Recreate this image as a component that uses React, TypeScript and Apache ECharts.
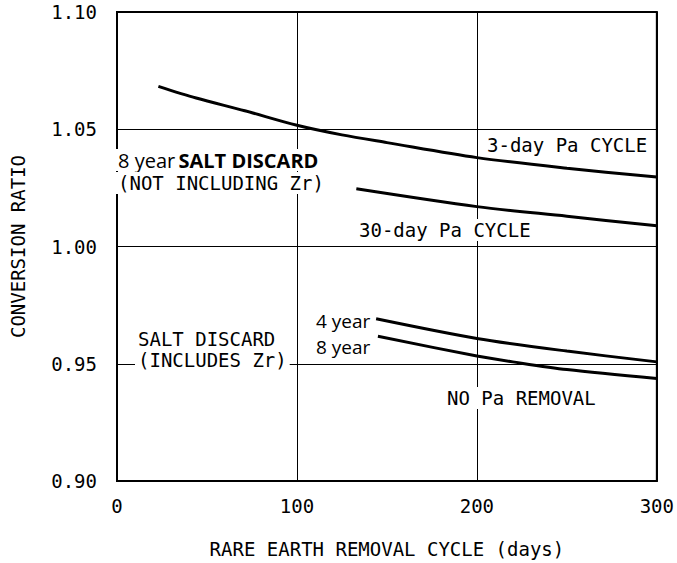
import React, { useEffect, useRef } from "react";
import * as echarts from "echarts";

const xTicks = [0, 100, 200, 300];
const yTicks = [0.9, 0.95, 1.0, 1.05, 1.1];

const threeDayPa: [number, number][] = [
  [23, 1.0683], [44, 1.0633], [71, 1.0579], [100, 1.0517], [125, 1.0476],
  [150, 1.0443], [200, 1.0379], [250, 1.0334], [300, 1.0296],
];
const thirtyDayPa: [number, number][] = [
  [133, 1.0246], [200, 1.017], [250, 1.0129], [300, 1.0088],
];
const fourYear: [number, number][] = [
  [144, 0.9692], [200, 0.9608], [250, 0.9554], [300, 0.9508],
];
const eightYear: [number, number][] = [
  [145, 0.9617], [200, 0.9533], [220, 0.9508], [250, 0.9475], [300, 0.9437],
];

const MONO = "'DejaVu Sans Mono', monospace";
const SANS = "'Open Sans', 'DejaVu Sans', sans-serif";

export default function App() {
  const ref = useRef<HTMLDivElement>(null);
  useEffect(() => {
    if (!ref.current) return;
    const chart = echarts.init(ref.current, null, { renderer: "svg" });
    const lineSeries = (name: string, data: [number, number][]) => ({
      name,
      type: "line",
      data,
      smooth: 0.3,
      showSymbol: false,
      lineStyle: { color: "#000", width: 3 },
      z: 3,
    });
    const label = (text: string, x: number, y: number, font: string, bg = true) => ({
      type: "text",
      x,
      y,
      z: 10,
      style: {
        text,
        font,
        fill: "#000",
        align: "left",
        verticalAlign: "middle",
        lineHeight: 20,
        backgroundColor: bg ? "#fff" : undefined,
        padding: bg ? [1, 3] : 0,
      },
    });
    chart.setOption({
      animation: false,
      backgroundColor: "#fff",
      grid: {
        left: 110,
        right: 17,
        top: 12,
        bottom: 72,
        show: true,
        borderColor: "#000",
        borderWidth: 2,
        backgroundColor: "transparent",
      },
      xAxis: {
        type: "value",
        min: 0,
        max: 300,
        interval: 100,
        axisLine: { show: true, lineStyle: { color: "#000", width: 2 } },
        axisTick: { show: false },
        splitLine: { show: true, lineStyle: { color: "#000", width: 1 } },
        axisLabel: {
          color: "#000",
          fontFamily: MONO,
          fontSize: 19,
          margin: 15,
          formatter: (v: number) => (xTicks.includes(v) ? String(v) : ""),
        },
        name: "RARE EARTH REMOVAL CYCLE (days)",
        nameLocation: "middle",
        nameGap: 58,
        nameTextStyle: { color: "#000", fontFamily: MONO, fontSize: 19 },
      },
      yAxis: {
        type: "value",
        min: 0.9,
        max: 1.1,
        interval: 0.05,
        axisLine: { show: true, lineStyle: { color: "#000", width: 2 } },
        axisTick: { show: false },
        splitLine: { show: true, lineStyle: { color: "#000", width: 1 } },
        axisLabel: {
          color: "#000",
          fontFamily: MONO,
          fontSize: 19,
          margin: 20,
          formatter: (v: number) => {
            const m = yTicks.find((t) => Math.abs(t - v) < 1e-6);
            return m !== undefined ? m.toFixed(2) : "";
          },
        },
        name: "CONVERSION RATIO",
        nameLocation: "middle",
        nameRotate: 90,
        nameGap: 90,
        nameTextStyle: { color: "#000", fontFamily: MONO, fontSize: 19 },
      },
      series: [
        lineSeries("3-day Pa CYCLE", threeDayPa),
        lineSeries("30-day Pa CYCLE", thirtyDayPa),
        lineSeries("4 year", fourYear),
        lineSeries("8 year", eightYear),
      ],
      graphic: [
        {
          type: "text",
          x: 115,
          y: 160,
          z: 10,
          style: {
            text: "{a|8 year} {b|SALT DISCARD}",
            verticalAlign: "middle",
            backgroundColor: "#fff",
            padding: [1, 3],
            rich: {
              a: { font: `20px ${SANS}`, fill: "#000", lineHeight: 20 },
              b: { font: `bold 20px ${SANS}`, fill: "#000", lineHeight: 20 },
            },
          },
        },
        label("(NOT INCLUDING Zr)", 115, 183, `19px ${MONO}`),
        label("3-day Pa CYCLE", 484, 145, `19px ${MONO}`),
        label("30-day Pa CYCLE", 356, 230, `19px ${MONO}`),
        label("SALT DISCARD", 135, 339, `19px ${MONO}`),
        label("(INCLUDES Zr)", 135, 360, `19px ${MONO}`),
        label("4 year", 316, 321, `19px ${SANS}`, false),
        label("8 year", 316, 347, `19px ${SANS}`, false),
        label("NO Pa REMOVAL", 444, 398, `19px ${MONO}`),
      ],
    });
    return () => chart.dispose();
  }, []);
  return (
    <div
      ref={ref}
      style={{ position: "absolute", left: 0, top: 0, width: 677, height: 563 }}
    />
  );
}
